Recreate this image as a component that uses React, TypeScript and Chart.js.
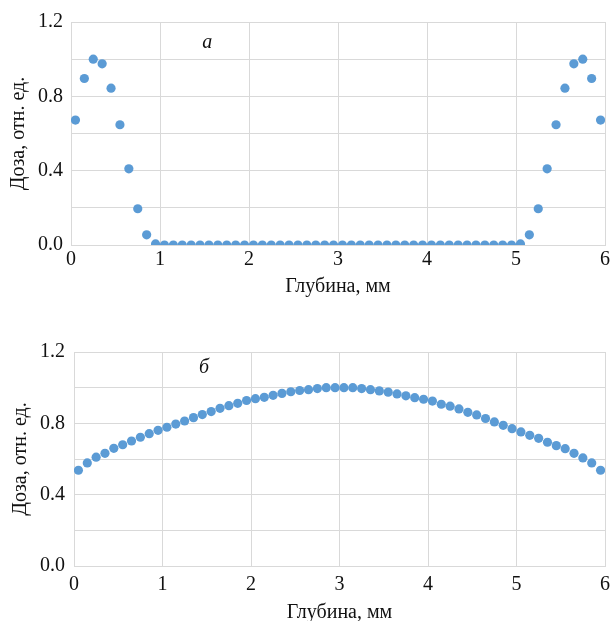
import { useEffect, useRef } from "react";
import { Chart, registerables } from "chart.js";

Chart.register(...registerables);

// Depth, mm
const depthMm: number[] = [
  0.05, 0.15, 0.25, 0.35, 0.45, 0.55, 0.65, 0.75, 0.85, 0.95,
  1.05, 1.15, 1.25, 1.35, 1.45, 1.55, 1.65, 1.75, 1.85, 1.95,
  2.05, 2.15, 2.25, 2.35, 2.45, 2.55, 2.65, 2.75, 2.85, 2.95,
  3.05, 3.15, 3.25, 3.35, 3.45, 3.55, 3.65, 3.75, 3.85, 3.95,
  4.05, 4.15, 4.25, 4.35, 4.45, 4.55, 4.65, 4.75, 4.85, 4.95,
  5.05, 5.15, 5.25, 5.35, 5.45, 5.55, 5.65, 5.75, 5.85, 5.95,
];

// Panel "а": dose, rel. units
const doseA: number[] = [
  0.672, 0.896, 1.0, 0.975, 0.844, 0.647, 0.41, 0.195, 0.055, 0.006,
  0, 0, 0, 0, 0, 0, 0, 0, 0, 0,
  0, 0, 0, 0, 0, 0, 0, 0, 0, 0,
  0, 0, 0, 0, 0, 0, 0, 0, 0, 0,
  0, 0, 0, 0, 0, 0, 0, 0, 0, 0,
  0.006, 0.055, 0.195, 0.41, 0.647, 0.844, 0.975, 1.0, 0.896, 0.672,
];

// Panel "б": dose, rel. units
const doseB: number[] = [
  0.537, 0.578, 0.61, 0.632, 0.66, 0.68, 0.701, 0.722, 0.742, 0.761,
  0.778, 0.796, 0.813, 0.832, 0.849, 0.866, 0.884, 0.899, 0.912, 0.928,
  0.938, 0.946, 0.957, 0.968, 0.977, 0.984, 0.989, 0.995, 1.0, 1.0,
  1.0, 1.0, 0.995, 0.989, 0.982, 0.975, 0.965, 0.954, 0.944, 0.935,
  0.925, 0.907, 0.896, 0.881, 0.862, 0.847, 0.827, 0.808, 0.789, 0.77,
  0.752, 0.733, 0.716, 0.694, 0.675, 0.658, 0.632, 0.606, 0.578, 0.537,
];

const xTitle = "Глубина, мм";
const yTitle = "Доза, отн. ед.";
const labelA = "а";
const labelB = "б";

const FONT = "'Liberation Serif', 'Times New Roman', serif";
const POINT_COLOR = "#5B9BD5";
const GRID_COLOR = "#d9d9d9";
const TEXT_COLOR = "#111111";

type PanelProps = {
  values: number[];
  label: string;
  labelX: number;
  labelY: number;
  top: number;
  height: number;
  padTop: number;
  yWidth: number;
  xHeight: number;
  yTitlePad: number;
  yTickPad: number;
  xTickPad: number;
  xTitlePad: number;
};

function Panel(p: PanelProps) {
  const ref = useRef<HTMLCanvasElement | null>(null);
  useEffect(() => {
    if (!ref.current) return;
    const annotation = {
      id: "panelLabel",
      afterDatasetsDraw(chart: any) {
        const ctx = chart.ctx;
        const xs = chart.scales.x;
        const ys = chart.scales.y;
        ctx.save();
        ctx.font = `italic 20px ${FONT}`;
        ctx.fillStyle = TEXT_COLOR;
        ctx.textAlign = "center";
        ctx.textBaseline = "middle";
        ctx.fillText(p.label, xs.getPixelForValue(p.labelX), ys.getPixelForValue(p.labelY));
        ctx.restore();
      },
    };
    const chart = new Chart(ref.current, {
      type: "scatter",
      data: {
        datasets: [
          {
            data: depthMm.map((x, i) => ({ x, y: p.values[i] })),
            backgroundColor: POINT_COLOR,
            borderWidth: 0,
            pointRadius: 4.6,
            pointHoverRadius: 4.6,
          },
        ],
      },
      options: {
        animation: false,
        responsive: false,
        maintainAspectRatio: false,
        events: [],
        layout: { padding: { top: p.padTop, right: 6, bottom: 0, left: 0 } },
        plugins: {
          legend: { display: false },
          tooltip: { enabled: false },
        },
        scales: {
          x: {
            type: "linear",
            min: 0,
            max: 6,
            afterFit: (s: any) => {
              s.height = p.xHeight;
              s.paddingLeft = 0;
              s.paddingRight = 0;
            },
            ticks: {
              stepSize: 1,
              padding: p.xTickPad,
              color: TEXT_COLOR,
              font: { family: FONT, size: 20 },
              maxRotation: 0,
            },
            grid: { color: GRID_COLOR, lineWidth: 1, drawTicks: false },
            border: { color: GRID_COLOR, width: 1 },
            title: {
              display: true,
              text: xTitle,
              color: TEXT_COLOR,
              font: { family: FONT, size: 20 },
              padding: { top: 0, bottom: p.xTitlePad },
            },
          },
          y: {
            type: "linear",
            min: 0,
            max: 1.2,
            afterFit: (s: any) => {
              s.width = p.yWidth;
            },
            ticks: {
              stepSize: 0.2,
              padding: p.yTickPad,
              color: TEXT_COLOR,
              font: { family: FONT, size: 20 },
              callback: (v: any) => (Math.round(Number(v) * 10) % 4 === 0 ? Number(v).toFixed(1) : ""),
            },
            grid: { color: GRID_COLOR, lineWidth: 1, drawTicks: false },
            border: { color: GRID_COLOR, width: 1 },
            title: {
              display: true,
              text: yTitle,
              color: TEXT_COLOR,
              font: { family: FONT, size: 20 },
              padding: { top: p.yTitlePad, bottom: 0 },
            },
          },
        },
      },
      plugins: [annotation],
    });
    return () => chart.destroy();
  }, []);
  return (
    <div style={{ position: "absolute", left: 0, top: p.top, width: 611, height: p.height }}>
      <canvas ref={ref} width={611} height={p.height} style={{ width: 611, height: p.height, display: "block" }} />
    </div>
  );
}

export default function App() {
  return (
    <div
      style={{
        position: "fixed",
        left: 0,
        top: 0,
        width: 611,
        height: 621,
        overflow: "hidden",
        background: "#ffffff",
      }}
    >
      <Panel
        values={doseA}
        label={labelA}
        labelX={1.53}
        labelY={1.09}
        top={0}
        height={300}
        padTop={22}
        yWidth={71}
        xHeight={55}
        yTitlePad={7}
        yTickPad={8}
        xTickPad={3}
        xTitlePad={1}
      />
      <Panel
        values={doseB}
        label={labelB}
        labelX={1.47}
        labelY={1.11}
        top={310}
        height={320}
        padTop={42}
        yWidth={74}
        xHeight={64}
        yTitlePad={9}
        yTickPad={9}
        xTickPad={7}
        xTitlePad={5}
      />
    </div>
  );
}
